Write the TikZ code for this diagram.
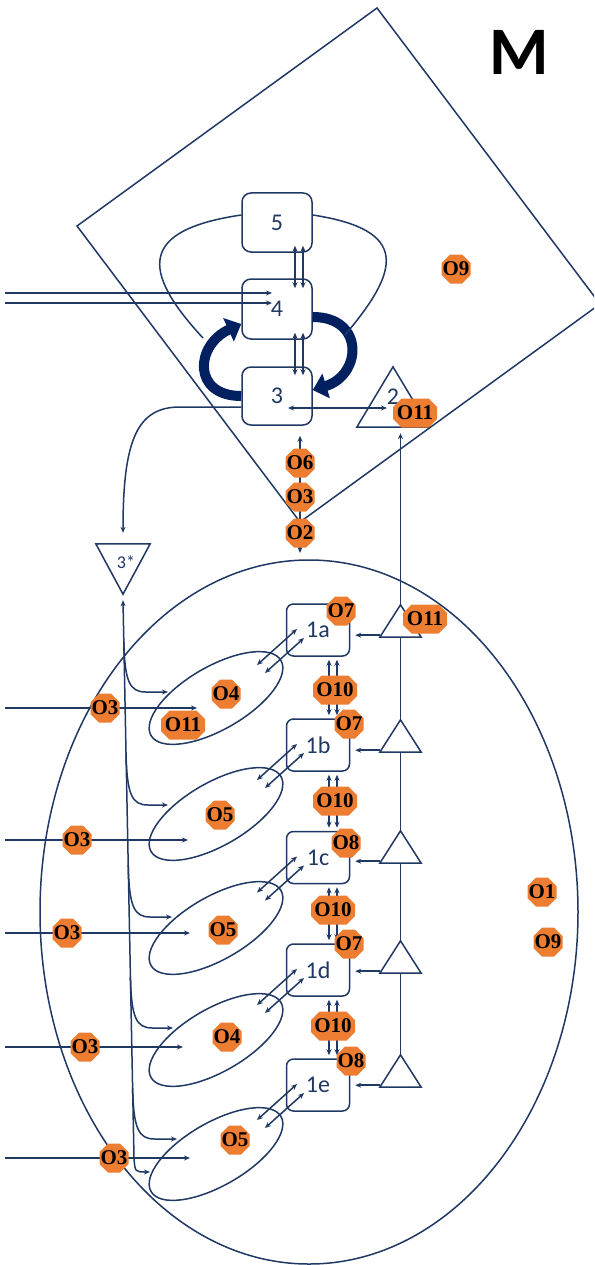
\documentclass[tikz,border=0pt]{standalone}
\usepackage{fontspec}
\setmainfont{Carlito}
\newfontfamily\octfont{Liberation Serif}
\usetikzlibrary{arrows.meta,shapes.geometric,calc}
\definecolor{navy}{RGB}{32,56,100}
\definecolor{deepnavy}{RGB}{0,32,96}
\definecolor{octorange}{RGB}{237,125,49}

% orange octagon marker: name, x, y, width, text
\newcommand\octmark[5]{%
  \pgfmathsetmacro\octhw{#4/2}\pgfmathsetmacro\octhx{#4/2-8.5}%
  \fill[octorange,shift={(#2,#3)}] (-\octhx,-14.5) -- (\octhx,-14.5) -- (\octhw,-6) -- (\octhw,6)
     -- (\octhx,14.5) -- (-\octhx,14.5) -- (-\octhw,6) -- (-\octhw,-6) -- cycle;
  \node[octtext] (#1) at (#2,#3) {#5};}

\begin{document}
\begin{tikzpicture}[x=1pt,y=-1pt,
  tipS/.tip={Stealth[length=6pt,width=5pt]},
  line/.style={draw=navy,line width=1.5pt},
  arr/.style={line,-tipS},
  dbl/.style={line,tipS-tipS},
  bigarc/.style={draw=deepnavy,line width=10pt,-{Triangle[length=14pt,width=25pt]}},
  stage/.style={draw=navy,line width=1.5pt,rounded corners=9pt,inner sep=0pt,
    minimum width=70pt,minimum height=59pt,text=navy,font=\fontsize{24}{24}\selectfont},
  sub/.style={stage,rounded corners=7pt,minimum width=63pt,minimum height=52pt},
  tri/.style 2 args={inner sep=0pt,minimum width=#1,minimum height=#2,text=navy,
    font=\fontsize{24}{24}\selectfont},
  pod/.style={draw=navy,line width=1.5pt,ellipse,inner sep=0pt,
    minimum width=150pt,minimum height=63pt,rotate=30},
  octtext/.style={inner sep=0pt,text=black,font=\octfont\bfseries\fontsize{21}{21}\selectfont}
]
\fill[white] (0,0) rectangle (594,1265);
\useasboundingbox (0,0) rectangle (594,1265);
\clip (0,0) rectangle (594,1265);

% outer frames
\draw[line] (377,8) -- (77,226) -- (300,522) -- (600,304) -- cycle;
\draw[line] (309,912) ellipse (269 and 352);

\node[font=\bfseries\fontsize{68}{68}\selectfont] (title) at (519,52) {M};

% upper stages
\node[stage] (b5) at (277,222.5) {5};
\node[stage,minimum height=60pt] (b4) at (277,309) {4};
\node[stage,minimum height=58pt] (b3) at (277,396) {3};

\node[tri={72pt}{60pt}] (t2) at (393,397) {2};
\node[tri={54pt}{50pt}] (t3s) at (123,569) {};
\node[text=navy,font=\fontsize{18}{18}\selectfont] (l3s) at (126,562) {3*};

% lower column
\node[sub] (b1a) at (318,630) {1a};
\node[sub] (b1b) at (318,745) {1b};
\node[sub] (b1c) at (318,857.5) {1c};
\node[sub] (b1d) at (318,970) {1d};
\node[sub] (b1e) at (318,1085) {1e};

\node[tri={41pt}{32pt}] (ta) at (400.5,621) {};
\node[tri={41pt}{32pt}] (tb) at (400.5,736) {};
\node[tri={41pt}{32pt}] (tc) at (400.5,847) {};
\node[tri={41pt}{32pt}] (td) at (400.5,957) {};
\node[tri={41pt}{32pt}] (te) at (400.5,1071) {};

\node[pod] (e1) at (216,698) {};
\node[pod] (e2) at (216,814) {};
\node[pod] (e3) at (216,928) {};
\node[pod] (e4) at (216,1040) {};
\node[pod] (e5) at (216,1154) {};

% triangle outlines
\foreach \t in {ta,tb,tc,td,te,t2}
  \draw[line] (\t.south west) -- (\t.north) -- (\t.south east) -- cycle;
\draw[line] (t3s.north west) -- (t3s.north east) -- (t3s.south) -- cycle;

% links between the upper stages
\foreach \dx in {18pt,26pt}{
  \draw[dbl] ([xshift=\dx,yshift=7pt]b5.south) -- ([xshift=\dx,yshift=-10pt]b4.north);
  \draw[dbl] ([xshift=\dx,yshift=7pt]b4.south) -- ([xshift=\dx,yshift=-9pt]b3.north);
}
\coordinate (in4a) at (5,293);
\coordinate (in4b) at (5,303);
\draw[arr] (in4a) -- ([xshift=-5pt]b4.center |- in4a);
\draw[arr] (in4b) -- ([xshift=-5pt]b4.center |- in4b);

% cycle arrows between 3 and 4, with the feedback loop from 5
\draw[bigarc] (b3.west) .. controls (192,396) and (195,345) .. ([yshift=-15pt]b4.west);
\draw[bigarc] ([yshift=-8pt]b4.east) .. controls (365,317) and (362,375) .. ([yshift=6pt]b3.east);
\coordinate (loopL) at (203,338);
\coordinate (loopR) at (345,335);
\draw[line] ([yshift=7.5pt]b5.west) .. controls (140,230) and (140,270) .. (loopL);
\draw[line] ([yshift=7.5pt]b5.east) .. controls (410,230) and (400,270) .. (loopR);

\draw[dbl] ([xshift=11pt,yshift=-12pt]b3.center) -- ([xshift=-6pt,yshift=-11pt]t2.center);
\coordinate (down3) at (300,553);
\draw[dbl] ([xshift=23pt,yshift=-10pt]b3.south) -- (down3);
\draw[arr,shorten >=11pt] ([yshift=-11pt]b3.west) -- (180,407)
  .. controls (137,407) and (123,440) .. (t3s.north);

% feed line from 3* down to the pods
\coordinate (feedEnd) at (150,1172);
\draw[dbl] ([yshift=-6pt]t3s.south) -- (134,1158) .. controls (135,1172) .. (feedEnd);
\foreach \sx/\sy/\ey/\tx in {123.8/642/692/168, 126/753/805/168, 128.2/865/917/172,
                             130.4/977/1028/173, 132.6/1088/1139/177}
  \draw[arr] (\sx,\sy) .. controls (\sx+1,\ey-10) and (\sx+6,\ey) .. (\sx+22,\ey) -- (\tx,\ey);

% external inputs into the pods
\coordinate (in1) at (5,708);
\coordinate (in2) at (5,840);
\coordinate (in3) at (5,933);
\coordinate (in4) at (5,1047);
\coordinate (in5) at (5,1158);
\draw[arr] (in1) -- ([xshift=-19pt]e1.center |- in1);
\draw[arr] (in2) -- ([xshift=-28pt]e2.center |- in2);
\draw[arr] (in3) -- ([xshift=-26pt]e3.center |- in3);
\draw[arr] (in4) -- ([xshift=-33pt]e4.center |- in4);
\draw[arr] (in5) -- ([xshift=-26pt]e5.center |- in5);

% pod <-> stage links and stage chain
\foreach \b in {b1a,b1b,b1c,b1d,b1e}{
  \draw[dbl] ([xshift=-61pt,yshift=-35pt]\b.center) -- ([xshift=-21pt,yshift=1pt]\b.center);
  \draw[dbl] ([xshift=-53pt,yshift=-43pt]\b.center) -- ([xshift=-14pt,yshift=-8pt]\b.center);
}
\foreach \u/\l in {b1a/b1b,b1b/b1c,b1c/b1d,b1d/b1e}
  \foreach \dx in {11pt,19pt}
    \draw[dbl] ([xshift=\dx,yshift=-3pt]\u.south) -- ([xshift=\dx,yshift=3pt]\l.north);

% right-hand chain of triangles
\draw[line] (te.north) -- (td.south);
\draw[line] (td.north) -- (tc.south);
\draw[line] (tc.north) -- (tb.south);
\draw[line] (tb.north) -- (ta.south);
\draw[arr,shorten >=6pt] (ta.north) -- (ta.north |- t2.south);
\foreach \t/\b in {ta/b1a,tb/b1b,tc/b1c,td/b1d,te/b1e}
  \draw[arr,shorten >=5pt] ([yshift=2pt]\t.south west) -- ([yshift=2pt]\t.south west -| \b.east);

% markers
\octmark{o9t}{456}{269}{29}{O9}
\octmark{o11t}{415}{413}{44}{O11}
\octmark{o6}{300}{463}{29}{O6}
\octmark{o3u}{300}{497}{29}{O3}
\octmark{o2}{300}{533}{29}{O2}
\octmark{o7a}{341}{611}{29}{O7}
\octmark{o11a}{425}{619}{44}{O11}
\octmark{o4a}{226}{694}{29}{O4}
\octmark{o10a}{335}{690}{44}{O10}
\octmark{o3a}{105}{708}{29}{O3}
\octmark{o11e}{183}{725}{44}{O11}
\octmark{o7b}{349}{724}{29}{O7}
\octmark{o10b}{335}{801}{44}{O10}
\octmark{o5b}{220}{815}{29}{O5}
\octmark{o3b}{77}{840}{29}{O3}
\octmark{o8c}{346}{843}{29}{O8}
\octmark{o10c}{333}{910}{44}{O10}
\octmark{o5c}{223}{930}{29}{O5}
\octmark{o3c}{67}{933}{29}{O3}
\octmark{o1}{542}{892}{29}{O1}
\octmark{o7d}{349}{944}{29}{O7}
\octmark{o9r}{548}{942}{29}{O9}
\octmark{o10d}{333}{1026}{44}{O10}
\octmark{o4d}{227}{1037}{29}{O4}
\octmark{o3d}{85}{1047}{29}{O3}
\octmark{o8e}{351}{1061}{29}{O8}
\octmark{o5e}{235}{1140}{29}{O5}
\octmark{o3e}{114}{1158}{29}{O3}
\end{tikzpicture}
\end{document}
